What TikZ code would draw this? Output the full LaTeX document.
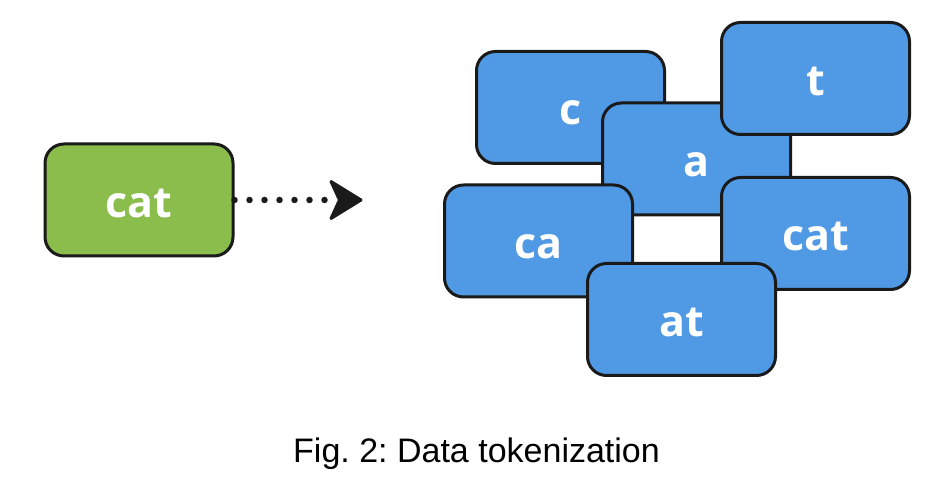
\documentclass[tikz,border=0pt]{standalone}
\usepackage{fontspec}
\setmainfont{Liberation Sans}
\newfontfamily\lblfont{Open Sans}
\definecolor{boxgreen}{HTML}{8ABD4C}
\definecolor{boxblue}{HTML}{5099E5}
\definecolor{edgecol}{HTML}{1A1A1A}
\tikzset{
  tokbox/.style={draw=edgecol, line width=3pt, rounded corners=19pt,
    minimum width=188pt, minimum height=112pt, inner sep=0pt,
    text=white, font=\lblfont\bfseries\fontsize{43}{43}\selectfont,
    text height=35pt, text depth=0pt},
  greenbox/.style={tokbox, fill=boxgreen},
  bluebox/.style={tokbox, fill=boxblue},
  dotline/.style={draw=edgecol, line width=6.5pt, line cap=round,
    dash pattern=on 0pt off 15pt},
  headstyle/.style={draw=edgecol, fill=edgecol, line width=3pt, line join=round},
  caption/.style={font=\fontsize{34}{34}\selectfont, text=black, anchor=base}
}
\begin{document}
\frenchspacing
\begin{tikzpicture}[x=1pt, y=-1pt]
\useasboundingbox (0,0) rectangle (946,494);
\node[greenbox] (g) at (139,200) {cat};
\coordinate (tip) at (361,200);
\coordinate (dotend) at (333,200);
\draw[dotline] (g.east) -- (dotend);
\draw[headstyle] (tip) -- ++(-30,-18.5) -- ++(8.5,18.5) -- ++(-8.5,18.5) -- cycle;
\node[bluebox] (c) at (570.5,107.5) {c};
\node[bluebox] (a) at (696.5,159) {a};
\node[bluebox] (t) at (815.5,78.5) {t};
\node[bluebox] (ca) at (538.5,241) {ca};
\node[bluebox] (cat2) at (815.5,233.5) {cat};
\node[bluebox] (at) at (681.5,319.5) {at};
\node[caption] (cap) at (476.5,463) {Fig.\ 2: Data tokenization};
\end{tikzpicture}
\end{document}
